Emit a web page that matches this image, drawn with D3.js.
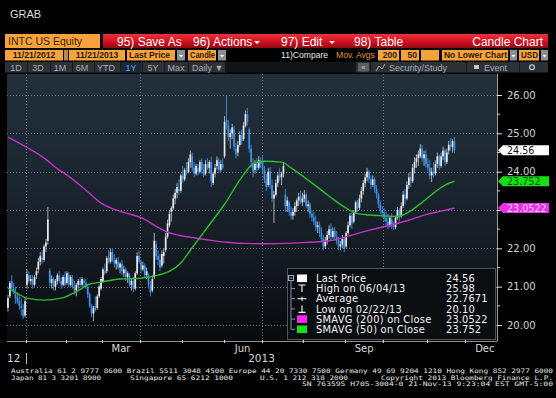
<!DOCTYPE html>
<html><head><meta charset="utf-8">
<script src="https://cdn.jsdelivr.net/npm/d3@7"></script>
<style>
html,body{margin:0;padding:0;background:#000;}
svg{display:block;font-family:"DejaVu Sans",sans-serif;}
</style></head><body>
<svg id="c" width="556" height="398"></svg>
<script>
// ---------------- DATA ----------------
const startDate = "2012-12-17";
const holidays = ["2012-12-25","2013-01-01","2013-01-21","2013-02-18","2013-03-29","2013-05-27","2013-07-04","2013-09-02","2013-11-28","2013-12-25","2014-01-01"];

const open = [
20.45,20.75,21.15,20.95,20.80,20.72,20.62,20.50,20.40,20.25,
21.05,21.30,21.15,21.20,21.05,21.30,21.45,21.65,21.75,21.70,
22.05,22.20,21.42,21.10,21.20,21.00,21.15,21.30,21.15,21.05,
21.25,21.10,21.30,21.05,21.20,21.00,20.90,21.05,21.15,21.05,
21.15,21.10,21.00,20.80,20.50,20.30,20.50,20.45,20.75,20.95,
21.15,21.40,21.40,21.75,21.65,21.90,21.70,21.60,21.65,21.50,
21.60,21.35,21.45,21.25,21.30,21.05,21.15,20.95,21.35,21.80,
21.65,21.45,21.55,21.30,21.30,21.05,20.90,21.25,22.10,21.80,
21.70,21.55,21.80,21.95,22.30,22.60,22.95,23.05,23.30,23.45,
23.55,23.50,23.90,23.80,24.05,24.00,24.25,24.40,24.10,23.95,
24.10,24.00,24.25,24.05,23.95,24.20,24.10,24.25,23.70,23.95,
24.15,24.25,24.05,24.20,24.40,25.35,25.20,24.90,25.00,25.10,
24.60,24.50,24.70,24.95,24.85,25.20,25.50,25.10,24.60,24.20,
24.05,24.20,24.10,24.30,24.25,24.05,23.80,23.65,24.00,23.65,
23.30,23.40,23.70,23.90,23.85,23.95,23.40,23.10,23.20,22.95,
22.85,22.95,23.10,23.25,23.35,23.20,23.30,23.40,23.10,23.15,
22.90,22.80,22.70,22.55,22.60,22.40,22.25,22.05,22.20,22.35,
22.50,22.30,22.45,22.30,22.20,22.05,22.10,22.25,22.05,22.40,
22.60,22.85,22.70,22.95,23.20,23.05,23.30,23.50,23.70,23.85,
24.00,23.80,23.65,23.80,23.55,23.40,23.15,23.00,22.92,22.80,
22.70,22.60,22.75,22.60,22.55,22.80,23.00,22.85,23.10,23.40,
23.30,23.65,23.85,23.75,24.10,24.25,24.35,24.40,24.60,24.35,
24.45,24.20,24.10,23.90,24.00,23.95,24.20,24.40,24.15,24.40,
24.55,24.25,24.55,24.70,24.65,24.80];
const high = [
20.78,21.15,21.30,21.10,21.00,20.85,20.78,20.70,20.55,20.70,
21.45,21.40,21.30,21.30,21.30,21.50,21.75,21.90,21.95,22.10,
22.25,23.08,21.48,21.30,21.25,21.20,21.35,21.40,21.25,21.30,
21.40,21.40,21.38,21.30,21.30,21.15,21.10,21.20,21.25,21.25,
21.22,21.20,21.05,20.85,20.55,20.50,20.75,20.80,21.05,21.25,
21.50,21.60,21.80,21.95,22.00,21.98,21.85,21.75,21.78,21.65,
21.70,21.55,21.50,21.40,21.35,21.20,21.25,21.40,21.90,21.95,
21.70,21.65,21.60,21.50,21.35,21.15,21.30,22.40,22.20,21.95,
21.85,21.95,22.00,22.40,22.75,23.00,23.10,23.40,23.55,23.70,
23.80,23.95,24.15,24.10,24.25,24.35,24.55,24.50,24.25,24.20,
24.20,24.30,24.35,24.20,24.30,24.35,24.30,24.40,24.00,24.20,
24.40,24.35,24.30,24.35,25.45,25.98,25.35,25.10,25.25,25.20,
24.75,24.80,25.05,25.10,25.30,25.60,25.66,25.15,24.70,24.35,
24.30,24.35,24.40,24.38,24.40,24.15,23.95,24.10,24.12,23.80,
23.50,23.80,24.00,24.10,24.00,24.25,23.55,23.35,23.25,23.10,
23.05,23.20,23.30,23.45,23.50,23.45,23.52,23.45,23.25,23.20,
23.00,22.95,22.85,22.70,22.70,22.55,22.35,22.30,22.45,22.60,
22.65,22.55,22.55,22.45,22.30,22.20,22.35,22.30,22.45,22.70,
22.92,22.95,23.00,23.25,23.26,23.40,23.60,23.78,23.95,24.10,
24.05,23.90,23.90,23.85,23.65,23.45,23.25,23.10,23.05,22.95,
22.90,22.85,22.92,22.70,22.85,23.08,23.05,23.20,23.50,23.55,
23.75,23.96,24.00,24.20,24.38,24.45,24.55,24.72,24.70,24.55,
24.57,24.35,24.30,24.10,24.25,24.30,24.50,24.45,24.50,24.65,
24.60,24.60,24.80,24.88,24.85,24.90];
const low = [
20.35,20.70,20.90,20.80,20.55,20.55,20.40,20.25,20.15,20.20,
20.95,21.10,21.05,20.95,21.00,21.20,21.35,21.55,21.60,21.65,
21.90,22.10,21.00,20.95,20.90,20.90,21.05,21.10,20.95,21.00,
21.00,21.05,21.00,21.00,20.95,20.80,20.75,20.95,21.00,21.00,
21.00,20.95,20.70,20.45,20.20,20.10,20.35,20.40,20.70,20.90,
21.10,21.30,21.35,21.60,21.60,21.65,21.50,21.45,21.45,21.35,
21.30,21.25,21.15,21.10,21.00,20.90,20.85,20.90,21.30,21.60,
21.35,21.40,21.25,21.20,20.95,20.75,20.85,21.20,21.70,21.55,
21.40,21.50,21.60,21.90,22.25,22.55,22.70,23.00,23.15,23.30,
23.40,23.45,23.70,23.75,23.90,23.95,24.10,24.00,23.85,23.90,
23.90,23.95,23.95,23.85,23.90,24.05,23.95,23.60,23.65,23.85,
24.05,23.95,24.00,24.05,24.35,25.10,24.80,24.60,24.85,24.55,
24.35,24.40,24.65,24.70,24.80,25.15,25.20,24.50,24.10,23.85,
23.95,24.00,24.05,24.10,23.95,23.70,23.50,23.60,23.55,23.20,
22.66,23.35,23.60,23.75,23.65,23.85,22.95,22.95,22.85,22.75,
22.75,22.85,22.95,23.10,23.15,23.10,23.20,23.05,22.95,22.80,
22.70,22.60,22.45,22.40,22.30,22.15,21.95,21.98,22.10,22.25,
22.20,22.25,22.20,22.10,21.95,21.95,22.00,21.90,22.00,22.35,
22.55,22.50,22.65,22.90,22.95,23.00,23.20,23.40,23.60,23.75,
23.70,23.55,23.60,23.45,23.30,23.05,22.90,22.80,22.70,22.60,
22.50,22.55,22.50,22.48,22.50,22.75,22.70,22.80,23.05,23.15,
23.25,23.55,23.60,23.70,23.95,24.10,24.15,24.35,24.25,24.15,
24.10,24.00,23.80,23.73,23.85,23.90,24.10,24.05,24.10,24.30,
24.15,24.20,24.45,24.55,24.50,24.48];
const close = [
20.70,21.10,20.95,20.88,20.70,20.60,20.50,20.45,20.22,20.62,
21.33,21.15,21.20,21.05,21.25,21.40,21.65,21.80,21.70,22.05,
22.15,22.75,21.10,21.20,21.00,21.15,21.30,21.15,21.05,21.25,
21.05,21.35,21.05,21.25,21.00,20.90,21.05,21.15,21.05,21.20,
21.10,21.00,20.80,20.50,20.30,20.45,20.40,20.75,21.00,21.20,
21.45,21.35,21.75,21.65,21.90,21.70,21.60,21.70,21.50,21.60,
21.40,21.45,21.25,21.35,21.05,21.15,20.95,21.35,21.80,21.65,
21.45,21.55,21.30,21.40,21.05,20.85,21.20,22.20,21.80,21.70,
21.50,21.85,21.90,22.30,22.65,22.90,23.05,23.30,23.45,23.60,
23.50,23.90,23.80,24.05,24.00,24.25,24.45,24.10,23.95,24.15,
24.00,24.25,24.05,23.90,24.20,24.10,24.25,23.75,23.95,24.10,
24.30,24.05,24.20,24.10,25.30,25.20,24.90,25.00,25.15,24.65,
24.45,24.70,24.95,24.80,25.20,25.50,25.30,24.60,24.25,24.00,
24.20,24.10,24.30,24.20,24.05,23.80,23.60,24.00,23.65,23.30,
23.40,23.70,23.90,23.85,23.95,24.15,23.10,23.25,22.95,22.85,
22.95,23.10,23.25,23.35,23.20,23.30,23.40,23.10,23.15,22.90,
22.80,22.70,22.55,22.60,22.40,22.25,22.05,22.20,22.35,22.50,
22.30,22.45,22.30,22.20,22.05,22.10,22.25,21.98,22.40,22.60,
22.85,22.65,22.95,23.20,23.05,23.30,23.50,23.70,23.85,24.00,
23.80,23.65,23.80,23.55,23.40,23.15,23.00,22.92,22.80,22.70,
22.60,22.80,22.60,22.55,22.80,23.00,22.85,23.10,23.40,23.30,
23.65,23.85,23.75,24.10,24.25,24.35,24.45,24.60,24.35,24.45,
24.20,24.10,23.90,24.00,23.95,24.20,24.40,24.15,24.40,24.55,
24.25,24.50,24.70,24.65,24.80,24.56];

// moving averages at given trading-day indices
const sma200Idx = [0,10,20,27,30,40,49,60,70,80,84,90,96,105,115,125,135,145,155,165,172,180,190,200,210,220,228,235];
const sma200    = [24.90,24.63,24.32,24.04,23.95,23.56,23.18,22.95,22.80,22.52,22.42,22.34,22.29,22.22,22.16,22.13,22.12,22.13,22.15,22.18,22.22,22.33,22.47,22.59,22.72,22.88,22.97,23.05];
const sma50Idx  = [0,5,10,19,28,37,42,49,59,70,79,84,91,96,105,114,123,129,135,144,149,158,166,172,178,183,190,198,205,210,218,225,230,235];
const sma50     = [20.96,20.82,20.70,20.65,20.70,20.90,21.05,21.12,21.20,21.22,21.30,21.38,21.62,21.95,22.55,23.15,23.85,24.20,24.27,24.25,24.10,23.78,23.48,23.25,23.05,22.92,22.87,22.85,22.83,22.92,23.20,23.48,23.65,23.75];

const priceTicks = [20,21,22,23,24,25,26];
const priceLabels = [20,21,22,24,25,26]; // 23.00 hidden under the SMA(200) tag in the reference
const minorTicks = [20.5,21.5,22.5,23.5,24.5,25.5];
const labelMonths = ["Mar","Jun","Sep","Dec"];
const gridMonths = [0,3,6,9]; // Jan, Apr, Jul, Oct

const legendLabels = ["Last Price","High on 06/04/13","Average","Low on 02/22/13","SMAVG (200) on Close","SMAVG (50) on Close"];
const legendValues = ["24.56","25.98","22.7671","20.10","23.0522","23.752"];
const lastValues = [24.56, 23.752, 23.0522];
const lastLabels = ["24.56","23.752","23.0522"];

const footer1 = "Australia 61 2 9777 8600 Brazil 5511 3048 4500 Europe 44 20 7330 7500 Germany 49 69 9204 1210 Hong Kong 852 2977 6000";
const footer2 = ["Japan 81 3 3201 8900","Singapore 65 6212 1000","U.S. 1 212 318 2000","Copyright 2013 Bloomberg Finance L.P."];
const footer3 = "SN 763595 H705-3004-0 21-Nov-13  9:23:04 EST  GMT-5:00";

// ---------------- CALENDAR ----------------
const fmt = d3.utcFormat("%Y-%m-%d");
const dates = [];
{
  let d = d3.utcParse("%Y-%m-%d")(startDate);
  while (dates.length < 270) {
    const wd = d.getUTCDay();
    if (wd !== 0 && wd !== 6 && !holidays.includes(fmt(d))) dates.push(d);
    d = d3.utcDay.offset(d, 1);
  }
}
const monthStarts = [];
dates.forEach((d, i) => {
  if (i > 0 && d.getUTCMonth() !== dates[i-1].getUTCMonth()) monthStarts.push({i, m: d.getUTCMonth(), y: d.getUTCFullYear()});
});

// ---------------- LAYOUT ----------------
const svg = d3.select("#c");
const P = {l:7, r:497, t:74, b:341};
const slot = 1.9;
const x = d3.scaleLinear().domain([0, (P.r - P.l) / slot]).range([P.l, P.r]);
const y = d3.scaleLinear().domain([20, 26]).range([325, 95]);
const cx = i => x(i + 0.5);

const defs = svg.append("defs");
const bg = defs.append("linearGradient").attr("id","bg").attr("x1",0).attr("y1",0).attr("x2",0).attr("y2",1);
bg.append("stop").attr("offset","0").attr("stop-color","#22303c");
bg.append("stop").attr("offset","0.45").attr("stop-color","#1a242e");
bg.append("stop").attr("offset","0.75").attr("stop-color","#11171d");
bg.append("stop").attr("offset","1").attr("stop-color","#080a0c");
const red = defs.append("linearGradient").attr("id","red").attr("x1",0).attr("y1",0).attr("x2",0).attr("y2",1);
red.append("stop").attr("offset","0").attr("stop-color","#f0303e");
red.append("stop").attr("offset","0.55").attr("stop-color","#d2101f");
red.append("stop").attr("offset","1").attr("stop-color","#8e0a14");
defs.append("clipPath").attr("id","clip").append("rect")
  .attr("x",P.l).attr("y",P.t).attr("width",P.r-P.l).attr("height",P.b-P.t);

svg.append("rect").attr("width",556).attr("height",398).attr("fill","#000");

// ---------------- HEADER ----------------
const hf = "Liberation Sans, Arial, sans-serif";
svg.append("text").attr("x",10).attr("y",18).attr("fill","#dcdcdc").attr("font-family",hf).attr("font-size",11).text("GRAB");

// row 1
svg.append("rect").attr("x",5).attr("y",34).attr("width",95).attr("height",14).attr("fill","#f6a33b");
svg.append("text").attr("x",8).attr("y",45).attr("fill","#3a2200").attr("font-family",hf).attr("font-size",10.5).text("INTC US Equity");
svg.append("rect").attr("x",103).attr("y",34).attr("width",445).attr("height",14).attr("fill","url(#red)");
[["95) Save As",117],["96) Actions",193],["97) Edit",281],["98) Table",354]].forEach(([t,px])=>{
  svg.append("text").attr("x",px).attr("y",45.5).attr("fill","#fff").attr("font-family",hf).attr("font-size",12).text(t);
});
[[257,41],[332,41]].forEach(([px,py])=>{
  svg.append("path").attr("d",`M${px-3},${py} L${px+3},${py} L${px},${py+3} Z`).attr("fill","#fff");
});
svg.append("text").attr("x",543).attr("y",45.5).attr("text-anchor","end").attr("fill","#fff").attr("font-family",hf).attr("font-size",12).text("Candle Chart");

// row 2
const box = (x0,w,fill)=>svg.append("rect").attr("x",x0).attr("y",50).attr("width",w).attr("height",10.5).attr("fill",fill);
const btxt = (t,x0,maxW,col,anchor)=>{
  const e = svg.append("text").attr("x",x0).attr("y",58.3).attr("fill",col||"#2a1800")
    .attr("font-family",hf).attr("font-size",8.6).attr("font-weight","bold").attr("text-anchor",anchor||"start").text(t);
  if (maxW && e.node().getComputedTextLength() > maxW) e.attr("textLength",maxW).attr("lengthAdjust","spacingAndGlyphs");
  return e;
};
box(5,58,"#f6a33b"); btxt("11/21/2012",34,54,null,"middle");
box(64,4,"#b58a50");
box(69,56,"#f6a33b"); btxt("11/21/2013",97,52,null,"middle");
box(127,48,"#f6a33b"); btxt("Last Price",129,45);
box(177,8,"#8a8f95");
box(188,28,"#f6a33b"); btxt("Candle",190,25);
box(218,8,"#8a8f95");
svg.append("text").attr("x",281).attr("y",58.3).attr("fill","#e6e6e6").attr("font-family",hf).attr("font-size",8.6).text("11)Compare");
svg.append("text").attr("x",336).attr("y",58.3).attr("fill","#e0952c").attr("font-family",hf).attr("font-size",8.6).text("Mov. Avgs");
box(378,21,"#f6a33b"); btxt("200",397,18,null,"end");
box(401,18,"#f6a33b"); btxt("50",417,15,null,"end");
box(421,18,"#f6a33b");
box(442,66,"#f6a33b"); btxt("No Lower Chart",444,63);
box(510,7,"#8a8f95");
box(519,20,"#f6a33b"); btxt("USD",521,17);
box(541,7,"#8a8f95");
[[181,56],[222,56],[513.5,56],[544.5,56]].forEach(([px,py])=>{
  svg.append("path").attr("d",`M${px-2},${py-1} L${px+2},${py-1} L${px},${py+1.5} Z`).attr("fill","#fff");
});

// row 3
svg.append("rect").attr("x",5).attr("y",62).attr("width",220).attr("height",10.5).attr("fill","#2c3136");
svg.append("rect").attr("x",225).attr("y",62).attr("width",131).attr("height",10.5).attr("fill","#121518");
svg.append("rect").attr("x",356).attr("y",62).attr("width",192).attr("height",10.5).attr("fill","#2c3136");
svg.append("rect").attr("x",121).attr("y",62).attr("width",20).attr("height",10.5).attr("fill","#1d2733");
[27,50,72,94,120,142,164,188,225,370,466,519].forEach(px=>{
  svg.append("rect").attr("x",px).attr("y",62).attr("width",1).attr("height",10.5).attr("fill","#15181b");
});
[["1D",16],["3D",38],["1M",60],["6M",82],["YTD",106],["1Y",131],["5Y",153],["Max",176]].forEach(([t,px])=>{
  svg.append("text").attr("x",px).attr("y",70.5).attr("text-anchor","middle").attr("fill",t==="1Y"?"#55a8ff":"#a3acb5")
    .attr("font-family",hf).attr("font-size",9).text(t);
});
svg.append("text").attr("x",192).attr("y",70.5).attr("fill","#a3acb5").attr("font-family",hf).attr("font-size",9).text("Daily ▼");
svg.append("rect").attr("x",358).attr("y",63).attr("width",11).attr("height",8.5).attr("fill","#5a5f65");
svg.append("text").attr("x",363.5).attr("y",70).attr("text-anchor","middle").attr("fill","#c8c8c8").attr("font-family",hf).attr("font-size",8).text("«");
svg.append("path").attr("d","M376,71 L379,66 L382,69 L385,64").attr("fill","none").attr("stroke","#a3acb5").attr("stroke-width",1);
svg.append("text").attr("x",389).attr("y",70.5).attr("fill","#a3acb5").attr("font-family",hf).attr("font-size",9).text("Security/Study");
svg.append("rect").attr("x",474).attr("y",65).attr("width",5).attr("height",4).attr("fill","#c0c6cc");
svg.append("text").attr("x",484).attr("y",70.5).attr("fill","#a3acb5").attr("font-family",hf).attr("font-size",9).text("Event");
svg.append("circle").attr("cx",532).attr("cy",67.3).attr("r",2.4).attr("fill","none").attr("stroke","#c0c6cc").attr("stroke-width",1.3);

// ---------------- PLOT ----------------
svg.append("rect").attr("x",P.l).attr("y",P.t).attr("width",P.r-P.l).attr("height",P.b-P.t).attr("fill","url(#bg)");

// grid
svg.append("g").selectAll("line").data(priceTicks).join("line")
  .attr("x1",P.l).attr("x2",P.r).attr("y1",d=>Math.round(y(d))+0.5).attr("y2",d=>Math.round(y(d))+0.5)
  .attr("stroke","#6b7681").attr("stroke-dasharray","1,2");
svg.append("g").selectAll("line").data(monthStarts.filter(m=>gridMonths.includes(m.m) && x(m.i) < P.r)).join("line")
  .attr("x1",d=>Math.round(x(d.i))+0.5).attr("x2",d=>Math.round(x(d.i))+0.5).attr("y1",P.t).attr("y2",P.b)
  .attr("stroke","#6b7681").attr("stroke-dasharray","1,2");

// candles
const idx = d3.range(close.length);
const cg = svg.append("g").attr("clip-path","url(#clip)");
cg.selectAll("line.w").data(idx).join("line").attr("class","w")
  .attr("x1",i=>cx(i)).attr("x2",i=>cx(i)).attr("y1",i=>y(high[i])).attr("y2",i=>y(low[i]))
  .attr("stroke",i=>close[i]>=open[i]?"#b9bcc0":"#3b8be0").attr("stroke-width",0.9);
cg.selectAll("rect.b").data(idx).join("rect").attr("class","b")
  .attr("x",i=>cx(i)-0.85).attr("width",1.7)
  .attr("y",i=>y(Math.max(open[i],close[i])))
  .attr("height",i=>Math.max(0.8, Math.abs(y(open[i])-y(close[i]))))
  .attr("fill",i=>close[i]>=open[i]?"#e6e8ea":"#3d91ec");

// moving averages
const line = d3.line().curve(d3.curveMonotoneX);
cg.append("path").attr("d",line(sma200Idx.map((i,k)=>[cx(i),y(sma200[k])])))
  .attr("fill","none").attr("stroke","#c530c8").attr("stroke-width",1.4);
cg.append("path").attr("d",line(sma50Idx.map((i,k)=>[cx(i),y(sma50[k])])))
  .attr("fill","none").attr("stroke","#2ebd2e").attr("stroke-width",1.4);

// right axis
svg.append("line").attr("x1",P.r+0.5).attr("x2",P.r+0.5).attr("y1",P.t).attr("y2",P.b).attr("stroke","#9a9a9a");
const ax = d3.axisRight(y).tickValues(priceTicks).tickFormat(d=>priceLabels.includes(d)?d3.format(".2f")(d):"").tickSize(5).tickPadding(5);
const ag = svg.append("g").attr("transform",`translate(${P.r},0)`).call(ax);
ag.select(".domain").remove();
ag.selectAll("line").attr("stroke","#e0e0e0");
ag.selectAll("text").attr("fill","#d2d2d2").attr("font-size",10).attr("font-family","DejaVu Sans");
svg.append("g").selectAll("line").data(minorTicks).join("line")
  .attr("x1",P.r).attr("x2",P.r+3).attr("y1",d=>y(d)).attr("y2",d=>y(d)).attr("stroke","#cfcfcf");

// last value tags
const tagCols = [["#ffffff","#111"],["#14e014","#0b4a0b"],["#e830e8","#ffd0ff"]];
lastValues.forEach((v,k)=>{
  const yy = y(v);
  svg.append("path").attr("d",`M${P.r+1},${yy} L${P.r+6},${yy-5} L549,${yy-5} L549,${yy+5} L${P.r+6},${yy+5} Z`)
    .attr("fill",tagCols[k][0]);
  svg.append("text").attr("x",507).attr("y",yy+3.6).attr("fill",tagCols[k][1]).attr("font-size",9.6)
    .attr("font-family","DejaVu Sans").text(lastLabels[k]);
});

// bottom axis
svg.append("line").attr("x1",P.l).attr("x2",P.r).attr("y1",P.b+0.5).attr("y2",P.b+0.5).attr("stroke","#8c8c8c");
svg.append("g").selectAll("line").data(monthStarts.filter(m=>x(m.i)<=P.r)).join("line")
  .attr("x1",d=>Math.round(x(d.i))+0.5).attr("x2",d=>Math.round(x(d.i))+0.5).attr("y1",P.b-1).attr("y2",P.b+2)
  .attr("stroke","#dcdcdc");
const monthNames = ["Jan","Feb","Mar","Apr","May","Jun","Jul","Aug","Sep","Oct","Nov","Dec"];
monthStarts.forEach((m,k)=>{
  const nm = monthNames[m.m];
  if (!labelMonths.includes(nm) || m.y !== 2013) return;
  const next = monthStarts[k+1] ? monthStarts[k+1].i : m.i + 20;
  svg.append("text").attr("x",(x(m.i)+x(next))/2).attr("y",352).attr("text-anchor","middle")
    .attr("fill","#d8d8d8").attr("font-size",10).attr("font-family","DejaVu Sans").text(nm);
});
const jan = monthStarts.find(m=>m.m===0 && m.y===2013);
svg.append("text").attr("x",7).attr("y",362).attr("fill","#d8d8d8").attr("font-size",10.5).attr("font-family","DejaVu Sans").text("12");
svg.append("line").attr("x1",Math.round(x(jan.i))+0.5).attr("x2",Math.round(x(jan.i))+0.5).attr("y1",353).attr("y2",364).attr("stroke","#bdbdbd");
svg.append("text").attr("x",(x(jan.i)+P.r)/2).attr("y",362).attr("text-anchor","middle").attr("fill","#d8d8d8")
  .attr("font-size",10.5).attr("font-family","DejaVu Sans").text("2013");

// legend
const L = {x:287, y:268, w:208, h:71};
svg.append("rect").attr("x",L.x+0.5).attr("y",L.y+0.5).attr("width",L.w).attr("height",L.h)
  .attr("fill","#0b0e11").attr("stroke","#4d5358");
const rowY = k => 278.3 + k*10.2;
svg.append("rect").attr("x",288.5).attr("y",275.5).attr("width",5).attr("height",5).attr("fill","none").attr("stroke","#9aa6c0");
svg.append("line").attr("x1",289.5).attr("x2",292.5).attr("y1",278).attr("y2",278).attr("stroke","#9aa6c0");
svg.append("line").attr("x1",291).attr("x2",291).attr("y1",281).attr("y2",rowY(5)).attr("stroke","#8090b0");
d3.range(1,6).forEach(k=>{
  svg.append("line").attr("x1",291).attr("x2",295).attr("y1",rowY(k)).attr("y2",rowY(k)).attr("stroke","#8090b0");
});
const sw = [["#ffffff",0],["#ff22ff",4],["#14e014",5]];
sw.forEach(([c,k])=>svg.append("rect").attr("x",297).attr("y",rowY(k)-3.8).attr("width",10).attr("height",7.6).attr("fill",c));
svg.append("path").attr("d",`M298.5,${rowY(1)-3.5} L305.5,${rowY(1)-3.5} M302,${rowY(1)-3.5} L302,${rowY(1)+3.5}`).attr("stroke","#fff").attr("stroke-width",1.1);
svg.append("path").attr("d",`M297.5,${rowY(2)} L306.5,${rowY(2)} M302,${rowY(2)-2} L302,${rowY(2)+2}`).attr("stroke","#fff").attr("stroke-width",1.1);
svg.append("path").attr("d",`M298.5,${rowY(3)+3.5} L305.5,${rowY(3)+3.5} M302,${rowY(3)-3.5} L302,${rowY(3)+3.5}`).attr("stroke","#fff").attr("stroke-width",1.1);
legendLabels.forEach((t,k)=>{
  svg.append("text").attr("x",316).attr("y",rowY(k)+3.6).attr("fill","#f2f2f2").attr("font-size",9.9)
    .attr("letter-spacing",0.25).attr("font-family","DejaVu Sans").text(t);
  svg.append("text").attr("x",446).attr("y",rowY(k)+3.6).attr("fill","#f2f2f2").attr("font-size",9.9)
    .attr("letter-spacing",0.1).attr("font-family","DejaVu Sans").text(legendValues[k]);
});

// footer
const ff = "DejaVu Sans Mono, Liberation Mono, monospace";
const ft = (t,x0,y0,len)=>{
  svg.append("text").attr("x",x0).attr("y",y0).attr("fill","#e8e8e8").attr("font-size",6.2)
    .attr("font-family",ff).attr("textLength",len).attr("lengthAdjust","spacingAndGlyphs").text(t);
};
ft(footer1,11,373.3,542);
ft(footer2[0],11,379.7,90);
ft(footer2[1],130,379.7,103);
ft(footer2[2],260,379.7,88);
ft(footer2[3],381,379.7,172);
ft(footer3,302,386.1,251);
</script>
</body></html>
